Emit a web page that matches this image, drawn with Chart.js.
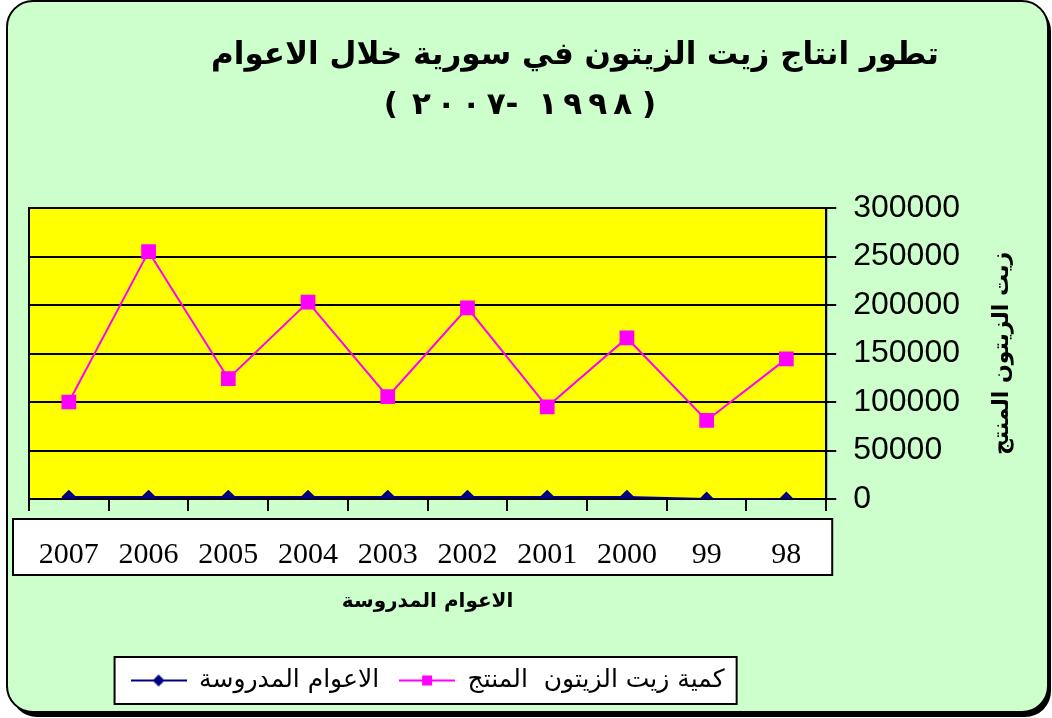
<!DOCTYPE html>
<html>
<head>
<meta charset="utf-8">
<title>تطور انتاج زيت الزيتون في سورية</title>
<script src="https://cdn.jsdelivr.net/npm/chart.js@4.4.0/dist/chart.umd.min.js"></script>
<style>
  html, body { margin: 0; padding: 0; background: #ffffff; }
  #myChart { display: block; }
</style>
</head>
<body>
<canvas id="myChart" width="1052" height="718"></canvas>
<script>
//chart data
var years = ["2007", "2006", "2005", "2004", "2003", "2002", "2001", "2000", "99", "98"];
var yearValues = [2007, 2006, 2005, 2004, 2003, 2002, 2001, 2000, 99, 98];
var oilValues = [100000, 255000, 124000, 203000, 105500, 197000, 95000, 166000, 81000, 144500];
var yMax = 300000;
var yStep = 50000;

//texts
var titleLine1 = "تطور انتاج زيت الزيتون في سورية خلال الاعوام";
//second title line, pieces in the order they are seen (left to right)
var titleLine2 = ["(", "٢٠٠٧-", "١٩٩٨", ")"];
var seriesNames = ["الاعوام المدروسة", "كمية زيت الزيتون  المنتج"];
var xTitle = "الاعوام المدروسة";
var yTitle = "زيت الزيتون المنتج";

var arabicFont = "'DejaVu Sans', sans-serif";

/**
	small canvas used as legend symbol:
	a line with the marker in the middle (like excel)
*/
function legendSymbol(color, shape){
	var c = document.createElement('canvas');
	c.width = 56;
	c.height = 16;
	var g = c.getContext('2d');
	g.strokeStyle = color;
	g.lineWidth = 2;
	g.beginPath();
	g.moveTo(0, 8);
	g.lineTo(56, 8);
	g.stroke();
	g.fillStyle = color;
	g.beginPath();
	if(shape == 'diamond'){
		g.moveTo(28, 2);
		g.lineTo(34, 8);
		g.lineTo(28, 14);
		g.lineTo(22, 8);
		g.closePath();
	}else{
		g.rect(23, 3, 10, 10);
	}
	g.fill();
	return c;
}

var symbols = [legendSymbol('#000080', 'diamond'), legendSymbol('#FF00FF', 'square')];

//rounded rectangle path
function roundPath(c, x, y, w, h, r){
	c.beginPath();
	c.moveTo(x + r, y);
	c.lineTo(x + w - r, y);
	c.arcTo(x + w, y, x + w, y + r, r);
	c.lineTo(x + w, y + h - r);
	c.arcTo(x + w, y + h, x + w - r, y + h, r);
	c.lineTo(x + r, y + h);
	c.arcTo(x, y + h, x, y + h - r, r);
	c.lineTo(x, y + r);
	c.arcTo(x, y, x + r, y, r);
	c.closePath();
}

//extra space before a char: only between two digits
function charSpace(prev, ch, spacing){
	if(prev == null || prev == '-' || ch == '-'){ return 0; }
	return spacing;
}

//draw the pieces of a line char by char (wide spacing like the picture), centered on cx
function drawPieces(c, pieces, cx, cy, gaps, spacing){
	var total = 0;
	var i, j;
	for(i = 0; i < pieces.length; i++){
		for(j = 0; j < pieces[i].length; j++){
			total += c.measureText(pieces[i][j]).width + charSpace(j > 0 ? pieces[i][j - 1] : null, pieces[i][j], spacing);
		}
		if(i < pieces.length - 1){ total += gaps[i]; }
	}
	var x = cx - total / 2;
	c.textAlign = 'left';
	for(i = 0; i < pieces.length; i++){
		for(j = 0; j < pieces[i].length; j++){
			x += charSpace(j > 0 ? pieces[i][j - 1] : null, pieces[i][j], spacing);
			c.fillText(pieces[i][j], x, cy);
			x += c.measureText(pieces[i][j]).width;
		}
		if(i < pieces.length - 1){ x += gaps[i]; }
	}
}

//backgrounds, boxes and the texts chart.js can not place like excel
var excelLook = {
	id: 'excelLook',
	beforeDraw: function(chart){
		var c = chart.ctx;
		var a = chart.chartArea;
		c.save();
		//outer frame with shadow
		roundPath(c, 11, 5, 1040, 712, 26);
		c.fillStyle = '#000000';
		c.fill();
		roundPath(c, 7, 1, 1041, 711, 26);
		c.fillStyle = '#CCFFCC';
		c.fill();
		c.lineWidth = 2;
		c.strokeStyle = '#000000';
		c.stroke();

		//plot area
		c.fillStyle = '#FFFF00';
		c.fillRect(a.left, a.top, a.right - a.left, a.bottom - a.top);

		//white box behind the year labels
		c.fillStyle = '#FFFFFF';
		c.fillRect(a.left - 16, a.bottom + 20, a.right - a.left + 22, 56);
		c.strokeRect(a.left - 16, a.bottom + 20, a.right - a.left + 22, 56);

		//legend box
		var hb = chart.legend.legendHitBoxes;
		if(hb && hb.length){
			var l = hb[0].left, r = hb[0].left + hb[0].width, t = hb[0].top, b = hb[0].top + hb[0].height;
			for(var i = 1; i < hb.length; i++){
				l = Math.min(l, hb[i].left);
				r = Math.max(r, hb[i].left + hb[i].width);
				t = Math.min(t, hb[i].top);
				b = Math.max(b, hb[i].top + hb[i].height);
			}
			c.fillRect(l - 16, t - 11, r - l + 28, b - t + 22);
			c.strokeRect(l - 16, t - 11, r - l + 28, b - t + 22);
		}
		c.restore();
	},
	beforeDatasetsDraw: function(chart){
		var c = chart.ctx;
		var a = chart.chartArea;
		c.save();
		c.lineWidth = 2;
		c.strokeStyle = '#000000';
		c.strokeRect(a.left, a.top, a.right - a.left, a.bottom - a.top);
		c.restore();
	},
	afterDraw: function(chart){
		var c = chart.ctx;
		var a = chart.chartArea;
		c.save();
		c.fillStyle = '#000000';
		c.textAlign = 'center';
		c.textBaseline = 'middle';
		c.direction = 'ltr';
		//title, two lines
		c.font = "bold 31px " + arabicFont;
		c.fillText(titleLine1, 575, 56);
		drawPieces(c, titleLine2, 520, 106, [14, 20, 10], 6);
		//axis title on the right, reads from top to bottom
		c.textAlign = 'center';
		c.font = "bold 22px " + arabicFont;
		c.translate(1002, (a.top + a.bottom) / 2);
		c.rotate(-Math.PI / 2);
		c.fillText(yTitle, 0, 0);
		c.restore();
	}
};

var ctx = document.getElementById("myChart");

var myLineChart = new Chart(ctx, {
	type: 'line',
	data: {
		labels: years,
		datasets: [
			{
				label: seriesNames[0],
				data: yearValues,
				borderColor: '#000080',
				backgroundColor: '#000080',
				borderWidth: 2,
				pointStyle: 'rectRot',
				pointRadius: 6,
				pointHoverRadius: 6
			},
			{
				label: seriesNames[1],
				data: oilValues,
				borderColor: '#FF00FF',
				backgroundColor: '#FF00FF',
				borderWidth: 2,
				pointStyle: 'rect',
				pointRadius: 9,
				pointHoverRadius: 9
			}
		]
	},
	options: {
		responsive: false,
		animation: false,
		layout: {
			padding: { top: 208, left: 29, right: 75, bottom: 15 }
		},
		plugins: {
			tooltip: { enabled: false },
			legend: {
				position: 'bottom',
				fullSize: false,
				labels: {
					usePointStyle: true,
					pointStyleWidth: 56,
					padding: 20,
					color: '#000000',
					font: { family: arabicFont, size: 25 },
					generateLabels: function(chart){
						var items = Chart.defaults.plugins.legend.labels.generateLabels(chart);
						for(var i = 0; i < items.length; i++){
							items[i].pointStyle = symbols[i];
						}
						return items;
					}
				}
			}
		},
		scales: {
			x: {
				offset: true,
				grid: { offset: true, drawOnChartArea: false, color: '#000000', lineWidth: 2, tickLength: 12 },
				border: { color: '#000000', width: 2 },
				ticks: {
					color: '#000000',
					font: { family: "'Liberation Serif', serif", size: 30 },
					padding: 26,
					maxRotation: 0,
					autoSkip: false
				},
				title: {
					display: true,
					text: xTitle,
					color: '#000000',
					font: { family: arabicFont, size: 20, weight: 'bold' },
					padding: { top: -9, bottom: 34 }
				}
			},
			y: {
				position: 'right',
				min: 0,
				max: yMax,
				grid: { color: '#000000', lineWidth: 2, tickLength: 10 },
				border: { color: '#000000', width: 2 },
				ticks: {
					stepSize: yStep,
					color: '#000000',
					padding: 17,
					font: { family: "'Liberation Sans', Arial, sans-serif", size: 32 },
					callback: function(v){ return String(v); }
				}
			}
		}
	},
	plugins: [excelLook]
});
</script>
</body>
</html>
